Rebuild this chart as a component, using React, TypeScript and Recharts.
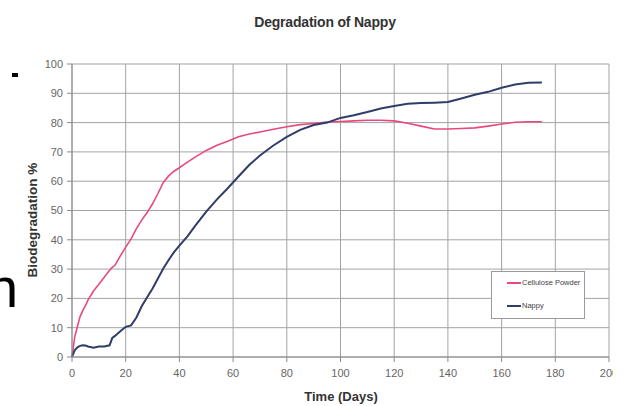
import React from 'react';
import { LineChart, Line, XAxis, YAxis, CartesianGrid, Legend } from 'recharts';

// days sampled along both curves
const days = [
  0, 1, 2, 3, 4, 5, 6, 8, 10, 12, 14, 15, 16, 18, 20, 22, 24, 26, 28, 30,
  32, 34, 36, 38, 40, 43, 46, 50, 54, 58, 62, 66, 70, 75, 80, 85, 90, 95, 100, 105,
  110, 115, 120, 125, 130, 135, 140, 145, 150, 155, 160, 165, 170, 175,
];

const cellulose = [
  0, 6.8, 10.4, 13.8, 15.8, 17.5, 19.5, 22.5, 24.8, 27.2, 29.6, 30.6, 31.3, 34.5, 37.5, 40.3, 43.8, 46.8, 49.3, 52.3,
  55.8, 59.6, 61.8, 63.4, 64.6, 66.5, 68.3, 70.5, 72.3, 73.6, 75.2, 76.1, 76.8, 77.7, 78.6, 79.3, 79.7, 80.2, 80.4, 80.6,
  80.8, 80.8, 80.6, 79.8, 78.8, 77.8, 77.8, 78.0, 78.2, 78.8, 79.5, 80.1, 80.3, 80.3,
];

const nappy = [
  0, 2.3, 3.3, 3.8, 4.0, 3.9, 3.6, 3.2, 3.6, 3.6, 4.0, 6.5, 7.2, 8.8, 10.3, 10.8, 13.5, 17.4, 20.4, 23.4,
  26.8, 30.2, 33.1, 35.8, 38.0, 41.2, 44.9, 49.6, 53.8, 57.6, 61.6, 65.5, 68.8, 72.2, 75.1, 77.5, 79.2, 80.0, 81.6, 82.5,
  83.6, 84.8, 85.7, 86.4, 86.7, 86.8, 87.0, 88.2, 89.5, 90.5, 91.9, 93.0, 93.6, 93.7,
];

const xTicks = [0, 20, 40, 60, 80, 100, 120, 140, 160, 180, 200];
const yTicks = [0, 10, 20, 30, 40, 50, 60, 70, 80, 90, 100];

const seriesNames = ['Cellulose Powder', 'Nappy'];
const seriesColors = ['#e8497d', '#2f3d68'];

const data = days.map((day, i) => ({ day, cellulose: cellulose[i], nappy: nappy[i] }));

const FONT = '"Liberation Sans", Arial, sans-serif';

const LegendBox = () => (
  <div
    style={{
      width: 94,
      height: 48,
      background: '#fff',
      border: '1px solid #9a9a9a',
      fontFamily: FONT,
      fontSize: 7.5,
      color: '#444',
      boxSizing: 'border-box',
      position: 'relative',
    }}
  >
    {seriesNames.map((name, i) => (
      <div
        key={name}
        style={{
          position: 'absolute', left: 15, top: i === 0 ? 6 : 29,
          display: 'flex', alignItems: 'center', whiteSpace: 'nowrap',
        }}
      >
        <span style={{ display: 'inline-block', width: 14, height: 2, background: seriesColors[i] }} />
        <span style={{ marginLeft: 1 }}>{name}</span>
      </div>
    ))}
  </div>
);

export default function App() {
  return (
    <div style={{ position: 'relative', width: 635, height: 406, background: '#fff', overflow: 'hidden' }}>
      <style>{'body{margin:0}'}</style>

      <div style={{ position: 'absolute', left: 0, top: 0, width: 613, height: 406, overflow: 'hidden' }}>
        <LineChart width={635} height={406} data={data} margin={{ top: 64, right: 26, left: 0, bottom: 19 }}>
          <CartesianGrid stroke="#a3a3a3" strokeWidth={1} />
          <XAxis
            type="number"
            dataKey="day"
            domain={[0, 200]}
            ticks={xTicks}
            interval={0}
            height={30}
            tickSize={5}
            tickMargin={7}
            stroke="#8a8a8a"
            tick={{ fill: '#666', fontSize: 11, fontFamily: FONT }}
          />
          <YAxis
            domain={[0, 100]}
            ticks={yTicks}
            interval={0}
            width={72}
            tickSize={5}
            tickMargin={4}
            stroke="#8a8a8a"
            tick={{ fill: '#666', fontSize: 11, fontFamily: FONT }}
          />
          <Legend
            layout="vertical"
            align="center"
            verticalAlign="middle"
            content={() => <LegendBox />}
            wrapperStyle={{ left: 491, top: 271, width: 94, height: 48 }}
          />
          <Line
            type="linear"
            dataKey="cellulose"
            name={seriesNames[0]}
            stroke={seriesColors[0]}
            strokeWidth={1.6}
            dot={false}
            isAnimationActive={false}
          />
          <Line
            type="linear"
            dataKey="nappy"
            name={seriesNames[1]}
            stroke={seriesColors[1]}
            strokeWidth={2}
            dot={false}
            isAnimationActive={false}
          />
        </LineChart>
      </div>

      <div
        style={{
          position: 'absolute', left: 253, top: 14, width: 144, textAlign: 'center',
          fontFamily: FONT, fontWeight: 'bold', fontSize: 14, color: '#333', letterSpacing: -0.2,
        }}
      >
        Degradation of Nappy
      </div>

      <div
        style={{
          position: 'absolute', left: 291, top: 389, width: 100, textAlign: 'center',
          fontFamily: FONT, fontWeight: 'bold', fontSize: 13, color: '#333',
        }}
      >
        Time (Days)
      </div>

      <div style={{ position: 'absolute', left: 33, top: 220, width: 0, height: 0 }}>
        <div
          style={{
            position: 'absolute', left: -70, top: -8, width: 140, textAlign: 'center',
            transform: 'rotate(-90deg)', fontFamily: FONT, fontWeight: 'bold', fontSize: 13.5, color: '#333',
            lineHeight: '16px',
          }}
        >
          Biodegradation %
        </div>
      </div>

      <div style={{ position: 'absolute', left: 12, top: 73, width: 6, height: 4, background: '#000' }} />
      <div
        style={{
          position: 'absolute', left: -13, top: 260, fontFamily: FONT, fontSize: 56, lineHeight: '56px', color: '#000',
        }}
      >
        n
      </div>
    </div>
  );
}
